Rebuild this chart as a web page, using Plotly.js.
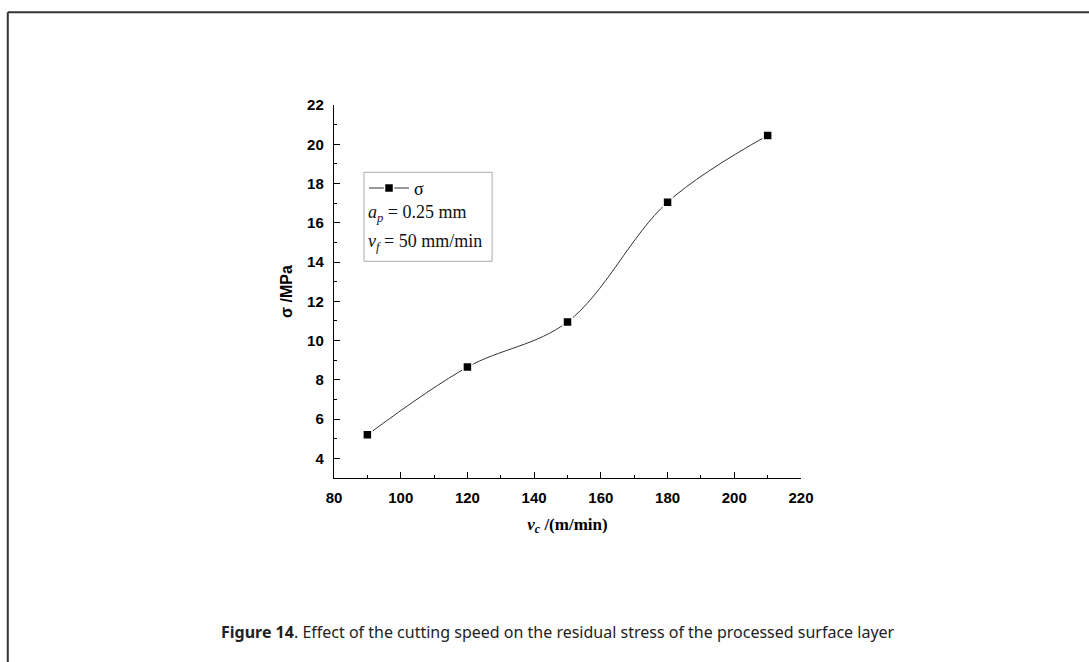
<!DOCTYPE html>
<html>
<head>
<meta charset="utf-8">
<script src="https://cdn.plot.ly/plotly-3.0.1.min.js"></script>
<style>
html,body{margin:0;padding:0;background:#fff;}
#chart{width:1089px;height:662px;}
</style>
</head>
<body>
<div id="chart"></div>
<script>
// Data
const cuttingSpeed = [90, 120, 150, 180, 210];          // v_c (m/min)
const residualStress = [5.2, 8.65, 10.95, 17.05, 20.45]; // sigma (MPa)
const seriesName = 'σ';
const xTickVals = [80, 100, 120, 140, 160, 180, 200, 220];
const yTickVals = [4, 6, 8, 10, 12, 14, 16, 18, 20, 22];
const captionBold = 'Figure 14';
const captionText = '. Effect of the cutting speed on the residual stress of the processed surface layer';
const condition1 = '<i>a</i><sub><i>p</i></sub> = 0.25 mm';
const condition2 = '<i>v</i><sub><i>f</i></sub> = 50 mm/min';

// plot area in pixels
const L = 334, R = 800.7, T = 104.7, B = 477.7, W = 1089, H = 662;
const px = v => (v - L) / (R - L);
const py = v => (B - v) / (B - T);

const trace = {
  x: cuttingSpeed,
  y: residualStress,
  name: seriesName,
  type: 'scatter',
  mode: 'lines+markers',
  line: {shape: 'spline', smoothing: 1, color: '#333', width: 1},
  marker: {symbol: 'square', size: 9, color: '#000', line: {color: '#fff', width: 1.5}},
  showlegend: true
};

const tickFont = {family: 'Liberation Sans, Arial, sans-serif', size: 15, color: '#000', weight: 'bold'};

const layout = {
  width: W, height: H,
  margin: {l: L, r: W - R, t: T, b: H - B, pad: 0},
  paper_bgcolor: '#fff',
  plot_bgcolor: '#fff',
  showlegend: true,
  legend: {
    x: px(364), y: py(188), xanchor: 'left', yanchor: 'middle',
    bgcolor: 'rgba(0,0,0,0)', borderwidth: 0,
    font: {family: 'Liberation Serif, Times New Roman, serif', size: 18, color: '#000'},
    itemwidth: 40
  },
  xaxis: {
    range: [80, 220], tickvals: xTickVals, ticktext: xTickVals.map(String),
    ticks: 'inside', ticklen: 6, tickwidth: 1, tickcolor: '#000',
    minor: {dtick: 10, tick0: 80, ticks: 'inside', ticklen: 3, tickwidth: 1, tickcolor: '#000'},
    showline: true, linecolor: '#000', linewidth: 1.2, showgrid: false, zeroline: false,
    tickfont: tickFont, ticklabelstandoff: 6,
    title: {text: '<b><i>v</i><sub><i>c</i></sub> /(m/min)</b>', font: {family: 'Liberation Serif, Times New Roman, serif', size: 17, color: '#000'}, standoff: 12}
  },
  yaxis: {
    range: [3, 22], tickvals: yTickVals, ticktext: yTickVals.map(String),
    ticks: 'inside', ticklen: 6, tickwidth: 1, tickcolor: '#000',
    minor: {dtick: 1, tick0: 3, ticks: 'inside', ticklen: 3, tickwidth: 1, tickcolor: '#000'},
    showline: true, linecolor: '#000', linewidth: 1.2, showgrid: false, zeroline: false,
    tickfont: tickFont, ticklabelstandoff: 6,
    title: {text: '<b>σ /MPa</b>', font: {family: 'Liberation Sans, Arial, sans-serif', size: 16, color: '#000'}, standoff: 10}
  },
  shapes: [
    // legend box
    {type: 'rect', xref: 'paper', yref: 'paper', x0: px(364), x1: px(492), y0: py(261), y1: py(172),
     line: {color: '#aaa', width: 1}, fillcolor: 'rgba(0,0,0,0)'},
    // page frame (top and left edges)
    {type: 'line', xref: 'paper', yref: 'paper', x0: px(8), x1: px(1089), y0: py(12), y1: py(12),
     line: {color: '#333', width: 2}},
    {type: 'line', xref: 'paper', yref: 'paper', x0: px(8), x1: px(8), y0: py(12), y1: py(662),
     line: {color: '#333', width: 2}}
  ],
  annotations: [
    {xref: 'paper', yref: 'paper', x: px(366), y: py(213), xanchor: 'left', yanchor: 'middle',
     text: condition1, showarrow: false,
     font: {family: 'Liberation Serif, Times New Roman, serif', size: 18, color: '#111'}},
    {xref: 'paper', yref: 'paper', x: px(366), y: py(242), xanchor: 'left', yanchor: 'middle',
     text: condition2, showarrow: false,
     font: {family: 'Liberation Serif, Times New Roman, serif', size: 18, color: '#111'}},
    {xref: 'paper', yref: 'paper', x: px(558), y: py(632), xanchor: 'center', yanchor: 'middle',
     text: '<b>' + captionBold + '</b>' + captionText, showarrow: false,
     font: {family: 'Noto Sans, Open Sans, sans-serif', size: 16, color: '#222'}}
  ]
};

Plotly.newPlot('chart', [trace], layout, {displayModeBar: false, staticPlot: true});
</script>
</body>
</html>
